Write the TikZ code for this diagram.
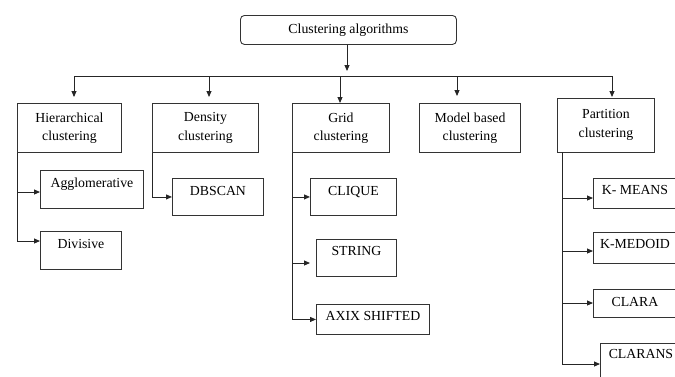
\documentclass[tikz,border=0pt]{standalone}
\usepackage{fontspec}
\setmainfont{Liberation Serif}
\usetikzlibrary{arrows.meta}
\begin{document}
\begin{tikzpicture}[x=1pt,y=-1pt,
  box/.style={draw=black!80, line width=0.9pt, inner sep=0pt, anchor=north west,
    font=\fontsize{13.8}{18.5}\selectfont},
  twoline/.style={box, align=center},
  conn/.style={draw=black!85, line width=0.9pt},
  arr/.style={conn, -{Triangle[length=6pt,width=5pt]}}
]
\useasboundingbox (0,0) rectangle (675,376);
\clip (0,0) rectangle (675,376);

% top
\node[box, rounded corners=4pt, minimum width=216pt, minimum height=29pt] (top) at (240,15) {Clustering algorithms};

% level 1
\node[twoline, minimum width=104pt, minimum height=49pt] (h) at (17,103) {Hierarchical\\clustering};
\node[twoline, minimum width=106pt, minimum height=49pt] (d) at (152,103) {Density\\clustering};
\node[twoline, minimum width=97pt, minimum height=49pt] (g) at (292,103) {Grid\\clustering};
\node[twoline, minimum width=101pt, minimum height=49pt] (m) at (419,103) {Model based\\clustering};
\node[twoline, minimum width=97pt, minimum height=54pt, text depth=4pt] (p) at (557,98) {Partition\\clustering};

% level 2
\node[box, minimum width=103pt, text height=17pt, text depth=21pt] (agg) at (40,170) {Agglomerative};
\node[box, minimum width=81pt, text height=17pt, text depth=21pt] (div) at (40,231) {Divisive};
\node[box, minimum width=91pt, text height=17pt, text depth=20pt] (dbscan) at (172,178) {DBSCAN};
\node[box, minimum width=86pt, text height=17pt, text depth=20pt] (clique) at (310,178) {CLIQUE};
\node[box, minimum width=80pt, text height=16pt, text depth=21pt] (string) at (316,239) {STRING};
\node[box, minimum width=113pt, text height=16pt, text depth=14pt] (axix) at (316,304) {AXIX SHIFTED};
\node[box, minimum width=83pt, text height=16pt, text depth=14pt] (kmeans) at (593,178) {K- MEANS};
\node[box, minimum width=83pt, text height=16pt, text depth=15pt] (kmedoid) at (593,232) {K-MEDOID};
\node[box, minimum width=83pt, text height=17pt, text depth=11pt] (clara) at (593,289) {CLARA};
\node[box, minimum width=81pt, text height=15pt, text depth=42pt] (clarans) at (600,343) {CLARANS};

% bus
\coordinate (bus) at (347,76);
\coordinate (busL) at (74,76);
\coordinate (busR) at (612,76);
\coordinate (t2) at (209,76);
\coordinate (t3) at (340,76);
\coordinate (t4) at (457,76);
\draw[arr, shorten >=5pt] (top.south -| bus) -- (bus);
\draw[conn] (busL) -- (busR);
\draw[arr, shorten >=6pt] (busL) -- (busL |- h.north);
\draw[arr, shorten >=6pt] (t2) -- (t2 |- d.north);
\draw[arr] (t3) -- (t3 |- g.north);
\draw[arr, shorten >=7pt] (t4) -- (t4 |- m.north);
\draw[arr, shorten >=1pt] (busR) -- (busR |- p.north);

% hierarchical
\coordinate (hA) at (17,192);
\coordinate (hB) at (17,241);
\draw[arr] (h.south west) |- (hB -| div.west);
\draw[arr] (hA) -- (hA -| agg.west);

% density
\draw[arr] (d.south west) |- (dbscan.west);

% grid
\coordinate (gS) at (292,263);
\draw[arr] (g.south west) |- (axix.west);
\draw[arr] (g.south west |- clique.west) -- (clique.west);
\draw[arr, shorten >=6pt] (gS) -- (gS -| string.west);

% partition
\coordinate (pv) at (562,152);
\coordinate (p1) at (562,198);
\coordinate (p2) at (562,251);
\coordinate (p3) at (562,303);
\coordinate (p4) at (562,364);
\draw[arr] (pv) -- (p4) -- (p4 -| clarans.west);
\draw[arr] (p1) -- (p1 -| kmeans.west);
\draw[arr] (p2) -- (p2 -| kmedoid.west);
\draw[arr] (p3) -- (p3 -| clara.west);
\end{tikzpicture}
\end{document}
